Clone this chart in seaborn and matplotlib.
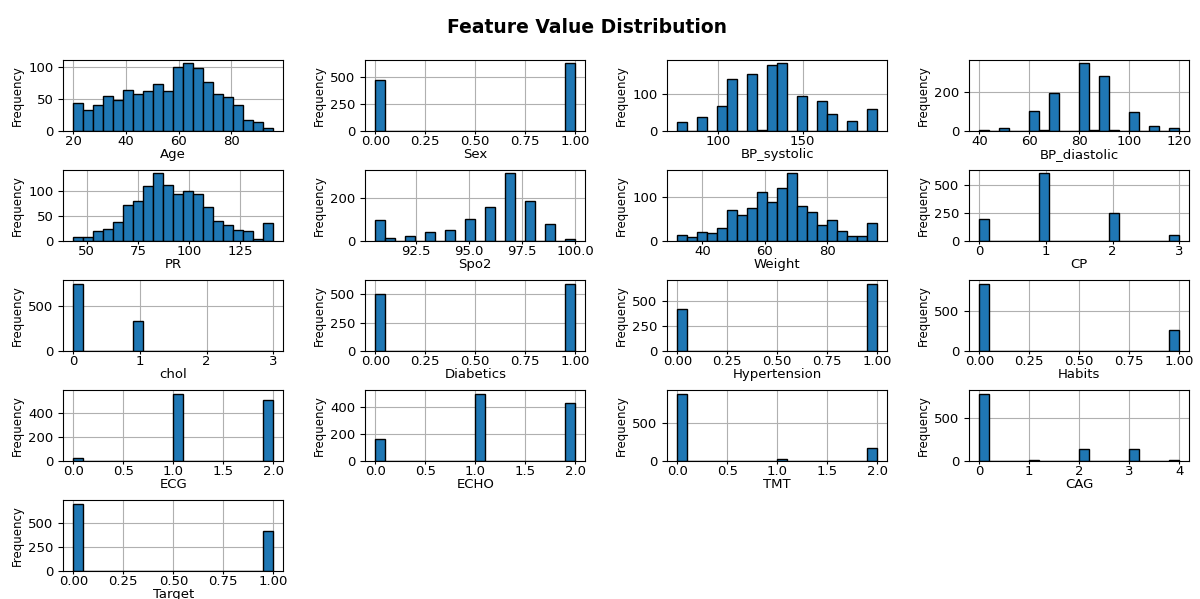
import numpy as np
import matplotlib
matplotlib.use("Agg")
import matplotlib.pyplot as plt
from matplotlib.ticker import MaxNLocator
import seaborn as sns

# ---- data: continuous features (value range and 20 bin counts) ----
age_range = (20, 96)
age_counts = [43, 33, 40, 54, 48, 64, 58, 62, 73, 62, 100, 106, 98, 77, 58, 53, 40, 17, 13, 4]
bp_systolic_range = (76, 194)
bp_systolic_counts = [24, 0, 39, 0, 67, 142, 0, 156, 2, 180, 185, 0, 95, 0, 83, 47, 0, 28, 0, 59]
bp_diastolic_range = (40, 120)
bp_diastolic_counts = [3, 0, 16, 0, 0, 103, 3, 198, 0, 0, 352, 3, 285, 3, 0, 96, 0, 25, 0, 16]
pr_range = (43.5, 141)
pr_counts = [7, 7, 19, 24, 38, 71, 80, 109, 134, 111, 93, 100, 93, 67, 40, 32, 21, 19, 4, 36]
spo2_range = (90.58, 100)
spo2_counts = [100, 13, 0, 25, 0, 40, 0, 51, 0, 105, 0, 160, 0, 317, 0, 189, 0, 79, 0, 10]
weight_range = (32, 96)
weight_counts = [14, 8, 21, 19, 30, 71, 59, 75, 112, 89, 122, 155, 79, 67, 36, 47, 23, 12, 10, 41]

# ---- data: discrete features (values and counts) ----
sex_values, sex_counts = [0, 1], [470, 630]
cp_values, cp_counts = [0, 1, 2, 3], [199, 602, 253, 48]
chol_values, chol_counts = [0, 1, 2, 3], [756, 340, 2, 2]
diabetics_values, diabetics_counts = [0, 1], [506, 596]
hypertension_values, hypertension_counts = [0, 1], [421, 679]
habits_values, habits_counts = [0, 1], [850, 259]
ecg_values, ecg_counts = [0, 1, 2], [26, 562, 505]
echo_values, echo_counts = [0, 1, 2], [162, 501, 433]
tmt_values, tmt_counts = [0, 1, 2], [892, 27, 171]
cag_values, cag_counts = [0, 1, 2, 3, 4], [792, 16, 136, 136, 16]
target_values, target_counts = [0, 1], [700, 413]

N_BINS = 20


def binned(rng, counts):
    edges = np.linspace(rng[0], rng[1], N_BINS + 1)
    centers = (edges[:-1] + edges[1:]) / 2
    return centers, counts, rng


def discrete(values, counts):
    return values, counts, (min(values), max(values))


features = [
    ("Age", binned(age_range, age_counts)),
    ("Sex", discrete(sex_values, sex_counts)),
    ("BP_systolic", binned(bp_systolic_range, bp_systolic_counts)),
    ("BP_diastolic", binned(bp_diastolic_range, bp_diastolic_counts)),
    ("PR", binned(pr_range, pr_counts)),
    ("Spo2", binned(spo2_range, spo2_counts)),
    ("Weight", binned(weight_range, weight_counts)),
    ("CP", discrete(cp_values, cp_counts)),
    ("chol", discrete(chol_values, chol_counts)),
    ("Diabetics", discrete(diabetics_values, diabetics_counts)),
    ("Hypertension", discrete(hypertension_values, hypertension_counts)),
    ("Habits", discrete(habits_values, habits_counts)),
    ("ECG", discrete(ecg_values, ecg_counts)),
    ("ECHO", discrete(echo_values, echo_counts)),
    ("TMT", discrete(tmt_values, tmt_counts)),
    ("CAG", discrete(cag_values, cag_counts)),
    ("Target", discrete(target_values, target_counts)),
]

plt.rcParams.update({
    "font.family": ["DejaVu Sans"],
    "font.size": 9,
    "xtick.labelsize": 9.5,
    "ytick.labelsize": 9.5,
    "xtick.major.pad": 0.5,
    "xtick.major.size": 2.5,
    "ytick.major.pad": 3.5,
    "axes.labelpad": 0,
})

fig, axes = plt.subplots(5, 4, figsize=(12, 5.99), dpi=100)
fig.subplots_adjust(left=0.0528, right=0.991, top=0.8998, bottom=0.0467,
                    wspace=0.373, hspace=0.556)

for ax, (name, (x, w, rng)) in zip(axes.flat, features):
    sns.histplot(x=x, weights=w, bins=N_BINS, binrange=rng, ax=ax,
                 color="#1f77b4", edgecolor="black", linewidth=1, alpha=1)
    ax.grid(True, color="#b0b0b0", linewidth=0.8)
    ax.set_axisbelow(True)
    ax.set_xlabel(name, fontsize=9.5)
    ax.set_ylabel("Frequency", fontsize=8.5, labelpad=3)
    ax.yaxis.set_major_locator(MaxNLocator(nbins=3, steps=[1, 2, 2.5, 5, 10]))
    ax.xaxis.set_major_locator(MaxNLocator(nbins=5, steps=[1, 2, 2.5, 5, 10]))
    ax.margins(x=0.05)

for ax in axes.flat[len(features):]:
    ax.set_visible(False)

fig.suptitle("Feature Value Distribution", fontsize=13.5, fontweight="bold",
             x=0.489, y=0.97)
fig.savefig("out.png", dpi=100)
